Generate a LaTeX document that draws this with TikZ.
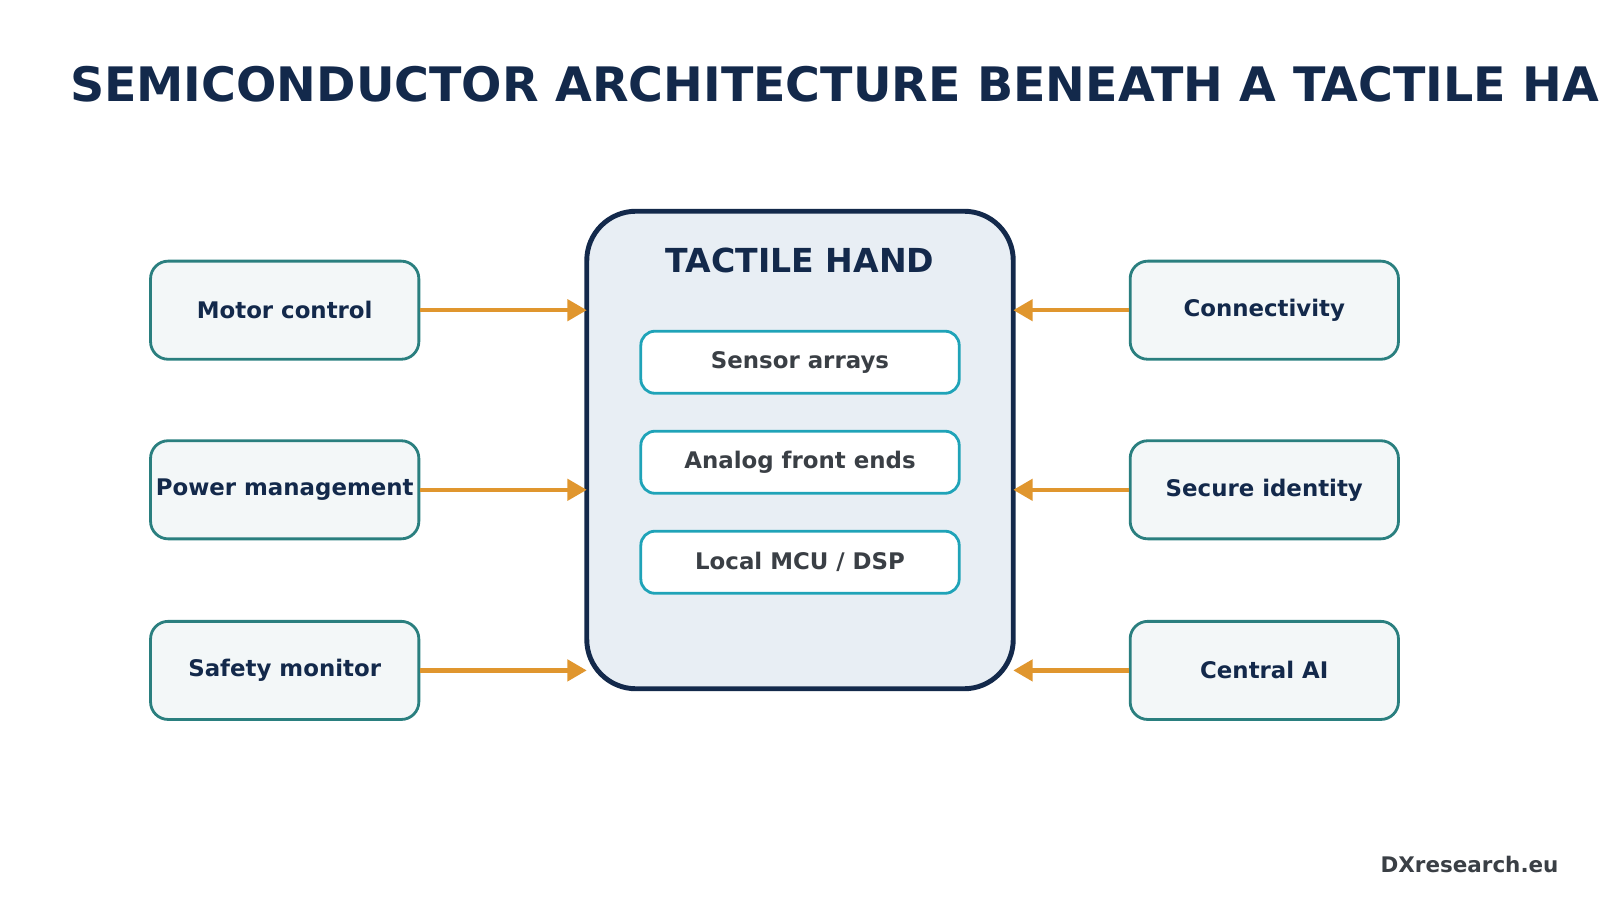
\documentclass[tikz,border=0pt]{standalone}
\usepackage{fontspec}
\setmainfont{DejaVu Sans}
\usetikzlibrary{arrows.meta}
\definecolor{navy}{HTML}{13294B}
\definecolor{teal}{HTML}{2A7F7F}
\definecolor{boxfill}{HTML}{F3F7F8}
\definecolor{cyanline}{HTML}{1FA3B8}
\definecolor{hubfill}{HTML}{E8EEF4}
\definecolor{orangearrow}{HTML}{E0962E}
\definecolor{greytext}{HTML}{3A3F45}
\begin{document}
\begin{tikzpicture}
[x=0.0102cm,y=-0.0102cm,
side/.style={draw=teal,line width=0.8pt,fill=boxfill,rounded corners=5pt,minimum width=2.68cm,minimum height=0.98cm,inner sep=0pt,font=\fontsize{6.5}{8}\selectfont\bfseries,text=navy},
inner/.style={draw=cyanline,line width=0.8pt,fill=white,rounded corners=4pt,minimum width=3.18cm,minimum height=0.62cm,inner sep=0pt,font=\fontsize{6.5}{8}\selectfont\bfseries,text=greytext},
link/.style={draw=orangearrow,line width=1.2pt,-{Triangle[length=5.5pt,width=6pt]}}]
\useasboundingbox (0,0) rectangle (1568,882);
\node[anchor=base west,inner sep=0pt,font=\fontsize{13.5}{16}\selectfont\bfseries,text=navy] (title) at (68,99) {SEMICONDUCTOR ARCHITECTURE BENEATH A TACTILE HAND};
\node[draw=navy,line width=1.4pt,fill=hubfill,rounded corners=14pt,minimum width=4.26cm,minimum height=4.77cm] (hub) at (784,441) {};
\node[font=\fontsize{9.4}{11}\selectfont\bfseries,text=navy] (hubtitle) at (784,255) {TACTILE HAND};
\node[inner] (s1) at (784,355) {Sensor arrays};
\node[inner] (s2) at (784,453) {Analog front ends};
\node[inner] (s3) at (784,551) {Local MCU / DSP};
\node[side] (l1) at (279,304) {Motor control};
\node[side] (l2) at (279,480) {Power management};
\node[side] (l3) at (279,657) {Safety monitor};
\node[side] (r1) at (1239,304) {Connectivity};
\node[side] (r2) at (1239,480) {Secure identity};
\node[side] (r3) at (1239,657) {Central AI};
\coordinate (hl1) at (575,304); \coordinate (hl2) at (575,480); \coordinate (hl3) at (575,657);
\coordinate (hr1) at (993,304); \coordinate (hr2) at (993,480); \coordinate (hr3) at (993,657);
\foreach \i in {1,2,3}{
\draw[link] (l\i.east) -- (hl\i);
\draw[link] (r\i.west) -- (hr\i);
}
\node[anchor=base east,inner sep=0pt,font=\fontsize{6.1}{7}\selectfont\bfseries,text=greytext] (footer) at (1528,855) {DXresearch.eu};
\end{tikzpicture}
\end{document}
